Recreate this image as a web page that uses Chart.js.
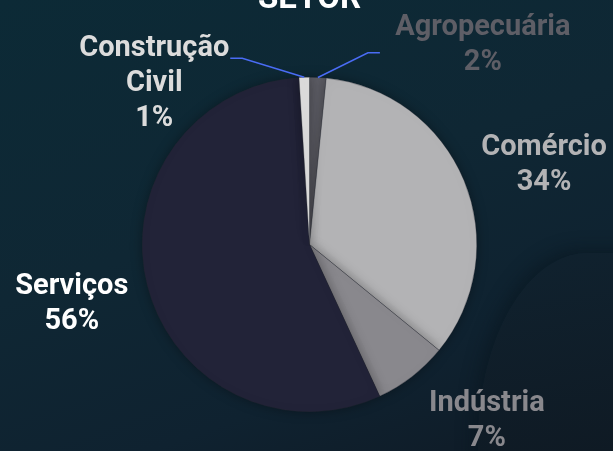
<!DOCTYPE html>
<html>
<head>
<meta charset="utf-8">
<script src="https://cdn.jsdelivr.net/npm/chart.js@4"></script>
<style>
    html, body { margin: 0; padding: 0; }
    body {
        width: 613px; height: 451px; overflow: hidden; position: relative;
        background: linear-gradient(160deg, #0c2a36 0%, #0f2734 45%, #0f2230 75%, #0f1a25 100%);
        font-family: Roboto, sans-serif;
    }
    .blob {
        position: absolute; left: 478px; top: 253px; width: 300px; height: 320px;
        border-top-left-radius: 110px 190px;
        background: linear-gradient(170deg, #10222f 0%, #0f1a24 60%, #101620 100%);
        box-shadow: -5px -4px 16px rgba(8, 20, 28, 0.5);
    }
    #wrap { position: absolute; left: 0; top: 0; width: 613px; height: 451px; }
</style>
</head>
<body>
<div class="blob"></div>
<div id="wrap"><canvas id="chart"></canvas></div>
<script>
document.addEventListener('DOMContentLoaded', function() {
    const categories = ['Agropecuária', 'Comércio', 'Indústria', 'Serviços', 'Construção Civil'];
    const values = [1.6, 34.3, 7.2, 55.9, 1.0];
    const sliceColors = ['#5e5e66', '#b3b3b5', '#89888d', '#222338', '#dcdcdc'];
    const labelColors = ['#5e5e66', '#b3b3b5', '#89888d', '#ffffff', '#dcdcdc'];

    const total = values.reduce((a, b) => a + b, 0);

    // small nudges so the outside labels sit like the original
    const labelNudge = [[0, 0], [8, 15], [27, -17], [0, 0], [0, 0]];

    const outsideLabels = {
        id: 'outsideLabels',
        afterDatasetsDraw(chart) {
            const ctx = chart.ctx;
            const meta = chart.getDatasetMeta(0);
            ctx.save();
            ctx.font = 'bold 29px Roboto';
            ctx.textAlign = 'center';
            ctx.textBaseline = 'middle';
            meta.data.forEach((arc, i) => {
                const p = arc.getProps(['x', 'y', 'startAngle', 'endAngle', 'outerRadius'], true);
                const mid = (p.startAngle + p.endAngle) / 2;
                const pct = Math.round(values[i] / total * 100) + '%';
                let lines = categories[i] === 'Construção Civil' ? ['Construção', 'Civil'] : [categories[i]];
                lines = lines.concat([pct]);
                let lx, ly;
                if (values[i] / total < 0.03) {
                    const side = Math.cos(mid) >= 0 ? 1 : -1;
                    const sx = p.x + Math.cos(mid) * p.outerRadius;
                    const sy = p.y + Math.sin(mid) * p.outerRadius;
                    const ex = sx + side * (side > 0 ? 50 : 62);
                    const ey = p.y - p.outerRadius - (side > 0 ? 24.5 : 19);
                    const hx = ex + side * 12;
                    ctx.strokeStyle = '#4a6cf5';
                    ctx.lineWidth = 1.5;
                    ctx.beginPath();
                    ctx.moveTo(sx, sy);
                    ctx.lineTo(ex, ey);
                    ctx.lineTo(hx, ey);
                    ctx.stroke();
                    if (side > 0) {
                        lx = hx + 103;
                        ly = ey - 8;
                    } else {
                        lx = hx - 76;
                        ly = ey + 25;
                    }
                } else {
                    const r = p.outerRadius + 78;
                    lx = p.x + Math.cos(mid) * r + labelNudge[i][0];
                    ly = p.y + Math.sin(mid) * r + labelNudge[i][1];
                }
                ctx.fillStyle = labelColors[i];
                const lh = 35;
                const top = ly - (lines.length - 1) * lh / 2;
                lines.forEach((t, k) => ctx.fillText(t, lx, top + k * lh));
            });
            ctx.font = 'bold 33px Roboto';
            ctx.fillStyle = '#ffffff';
            ctx.textBaseline = 'alphabetic';
            ctx.fillText('SETOR', meta.data[0].x, 8);
            ctx.restore();
        },
        beforeDatasetsDraw(chart) {
            chart.ctx.save();
            chart.ctx.shadowColor = 'rgba(0, 0, 0, 0.35)';
            chart.ctx.shadowBlur = 12;
        },
        afterDatasetDraw(chart) {
            chart.ctx.restore();
        }
    };

    new Chart(document.getElementById('chart'), {
        type: 'pie',
        data: {
            labels: categories,
            datasets: [{
                data: values,
                backgroundColor: sliceColors,
                borderColor: 'rgba(40, 40, 50, 0.6)',
                borderWidth: 0.5
            }]
        },
        options: {
            responsive: true,
            maintainAspectRatio: false,
            animation: false,
            layout: { padding: { top: 77, bottom: 39, left: 141, right: 135 } },
            plugins: {
                legend: { display: false },
                tooltip: { enabled: false },
                title: { display: false }
            }
        },
        plugins: [outsideLabels]
    });
});
</script>
</body>
</html>
